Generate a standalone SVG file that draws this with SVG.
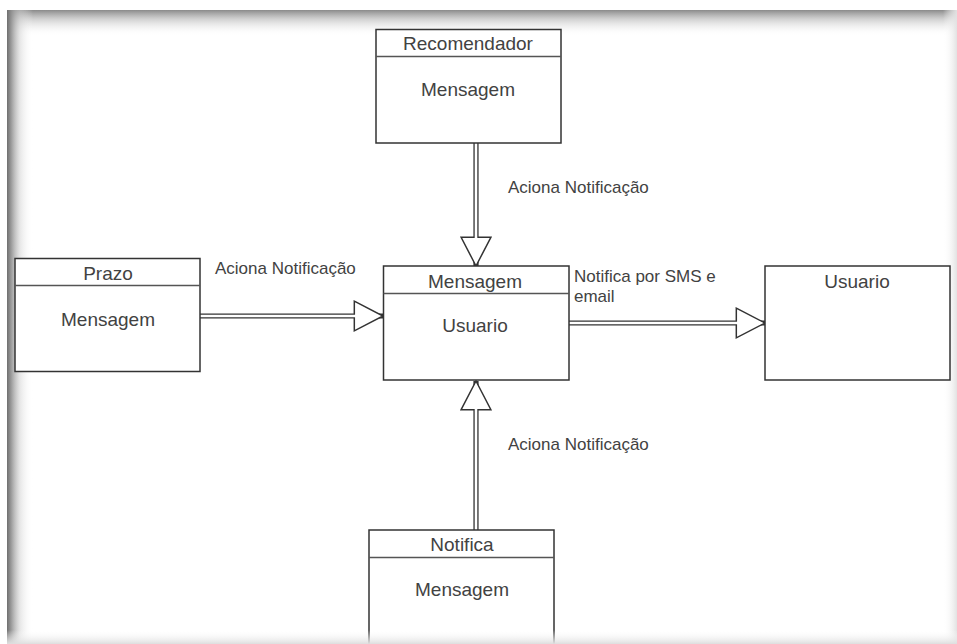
<svg xmlns="http://www.w3.org/2000/svg" width="957" height="644" viewBox="0 0 957 644">
  <defs>
    <linearGradient id="shadeTop" x1="0" y1="0" x2="0" y2="1">
      <stop offset="0" stop-color="#8a8a8a" stop-opacity="1"/>
      <stop offset="0.35" stop-color="#bdbdbd" stop-opacity="0.7"/>
      <stop offset="1" stop-color="#ffffff" stop-opacity="0"/>
    </linearGradient>
    <linearGradient id="shadeLeft" x1="0" y1="0" x2="1" y2="0">
      <stop offset="0" stop-color="#6e6e6e" stop-opacity="1"/>
      <stop offset="0.15" stop-color="#8c8c8c" stop-opacity="0.9"/>
      <stop offset="0.5" stop-color="#cfcfcf" stop-opacity="0.5"/>
      <stop offset="1" stop-color="#ffffff" stop-opacity="0"/>
    </linearGradient>
    <linearGradient id="shadeRight" x1="1" y1="0" x2="0" y2="0">
      <stop offset="0" stop-color="#e2e2e2" stop-opacity="1"/>
      <stop offset="1" stop-color="#ffffff" stop-opacity="0"/>
    </linearGradient>
    <linearGradient id="shadeBottom" x1="0" y1="1" x2="0" y2="0">
      <stop offset="0" stop-color="#dedede" stop-opacity="1"/>
      <stop offset="1" stop-color="#ffffff" stop-opacity="0"/>
    </linearGradient>
    <marker id="openHead" markerUnits="userSpaceOnUse" markerWidth="32" markerHeight="34" viewBox="-1 -16 30 32" refX="27" refY="0" orient="auto">
      <polygon points="0,-14 27,0 0,14" fill="#ffffff" stroke="#333333" stroke-width="1.4" stroke-linejoin="miter"/>
    </marker>
  </defs>
  <style>
    .box { fill: #ffffff; stroke: #333333; stroke-width: 1.5; }
    .div { stroke: #555555; stroke-width: 1.3; fill: none; }
    .t { font-family: "Liberation Sans", Arial, sans-serif; font-size: 19px; fill: #424242; text-anchor: middle; }
    .lbl { font-family: "Liberation Sans", Arial, sans-serif; font-size: 17px; fill: #424242; }
    .rail { stroke: #333333; stroke-width: 5.2; fill: none; }
    .gap { stroke: #ffffff; stroke-width: 2.6; fill: none; }
  </style>

  <!-- page background and frame shading -->
  <rect x="0" y="0" width="957" height="644" fill="#ffffff"/>
  <rect x="7" y="10" width="950" height="26" fill="url(#shadeTop)"/>
  <rect x="7" y="10" width="26" height="634" fill="url(#shadeLeft)"/>
  <rect x="943" y="10" width="14" height="634" fill="url(#shadeRight)"/>

  <!-- connectors -->
  <g id="connectors">
    <g id="prazo-to-mensagem">
      <path class="rail" d="M200,316 H383" marker-end="url(#openHead)"/>
      <path class="gap" d="M199,316 H357"/>
    </g>
    <g id="recomendador-to-mensagem">
      <path class="rail" d="M476,143 V266" marker-end="url(#openHead)"/>
      <path class="gap" d="M476,142 V239"/>
    </g>
    <g id="notifica-to-mensagem">
      <path class="rail" d="M476,530 V381" marker-end="url(#openHead)"/>
      <path class="gap" d="M476,531 V407"/>
    </g>
    <g id="mensagem-to-usuario">
      <path class="rail" d="M569,323 H765" marker-end="url(#openHead)"/>
      <path class="gap" d="M568,323 H739"/>
    </g>
    <text class="lbl" x="508" y="193">Aciona Notificação</text>
    <text class="lbl" x="215" y="274">Aciona Notificação</text>
    <text class="lbl" x="508" y="450">Aciona Notificação</text>
    <text class="lbl" x="574" y="282">Notifica por SMS e</text>
    <text class="lbl" x="574" y="302">email</text>
  </g>

  <!-- nodes -->
  <g id="recomendador">
    <rect class="box" x="376" y="29.5" width="185" height="113.5"/>
    <line class="div" x1="376" y1="56.5" x2="561" y2="56.5"/>
    <text class="t" x="468" y="50">Recomendador</text>
    <text class="t" x="468" y="96">Mensagem</text>
  </g>

  <g id="prazo">
    <rect class="box" x="15" y="258.5" width="185" height="113"/>
    <line class="div" x1="15" y1="285.5" x2="200" y2="285.5"/>
    <text class="t" x="108" y="280">Prazo</text>
    <text class="t" x="108" y="326">Mensagem</text>
  </g>

  <g id="mensagem">
    <rect class="box" x="383.5" y="266" width="185.5" height="114"/>
    <line class="div" x1="383.5" y1="293.5" x2="569" y2="293.5"/>
    <text class="t" x="475" y="288">Mensagem</text>
    <text class="t" x="475" y="332">Usuario</text>
  </g>

  <g id="usuario">
    <rect class="box" x="765" y="266" width="185" height="114"/>
    <text class="t" x="857" y="288">Usuario</text>
  </g>

  <g id="notifica">
    <rect class="box" x="369" y="530" width="185" height="120"/>
    <line class="div" x1="369" y1="557.5" x2="554" y2="557.5"/>
    <text class="t" x="462" y="551">Notifica</text>
    <text class="t" x="462" y="596">Mensagem</text>
  </g>

  <!-- soft shading along the lower edge, over the cut-off box -->
  <rect x="7" y="630" width="950" height="14" fill="url(#shadeBottom)"/>
</svg>
